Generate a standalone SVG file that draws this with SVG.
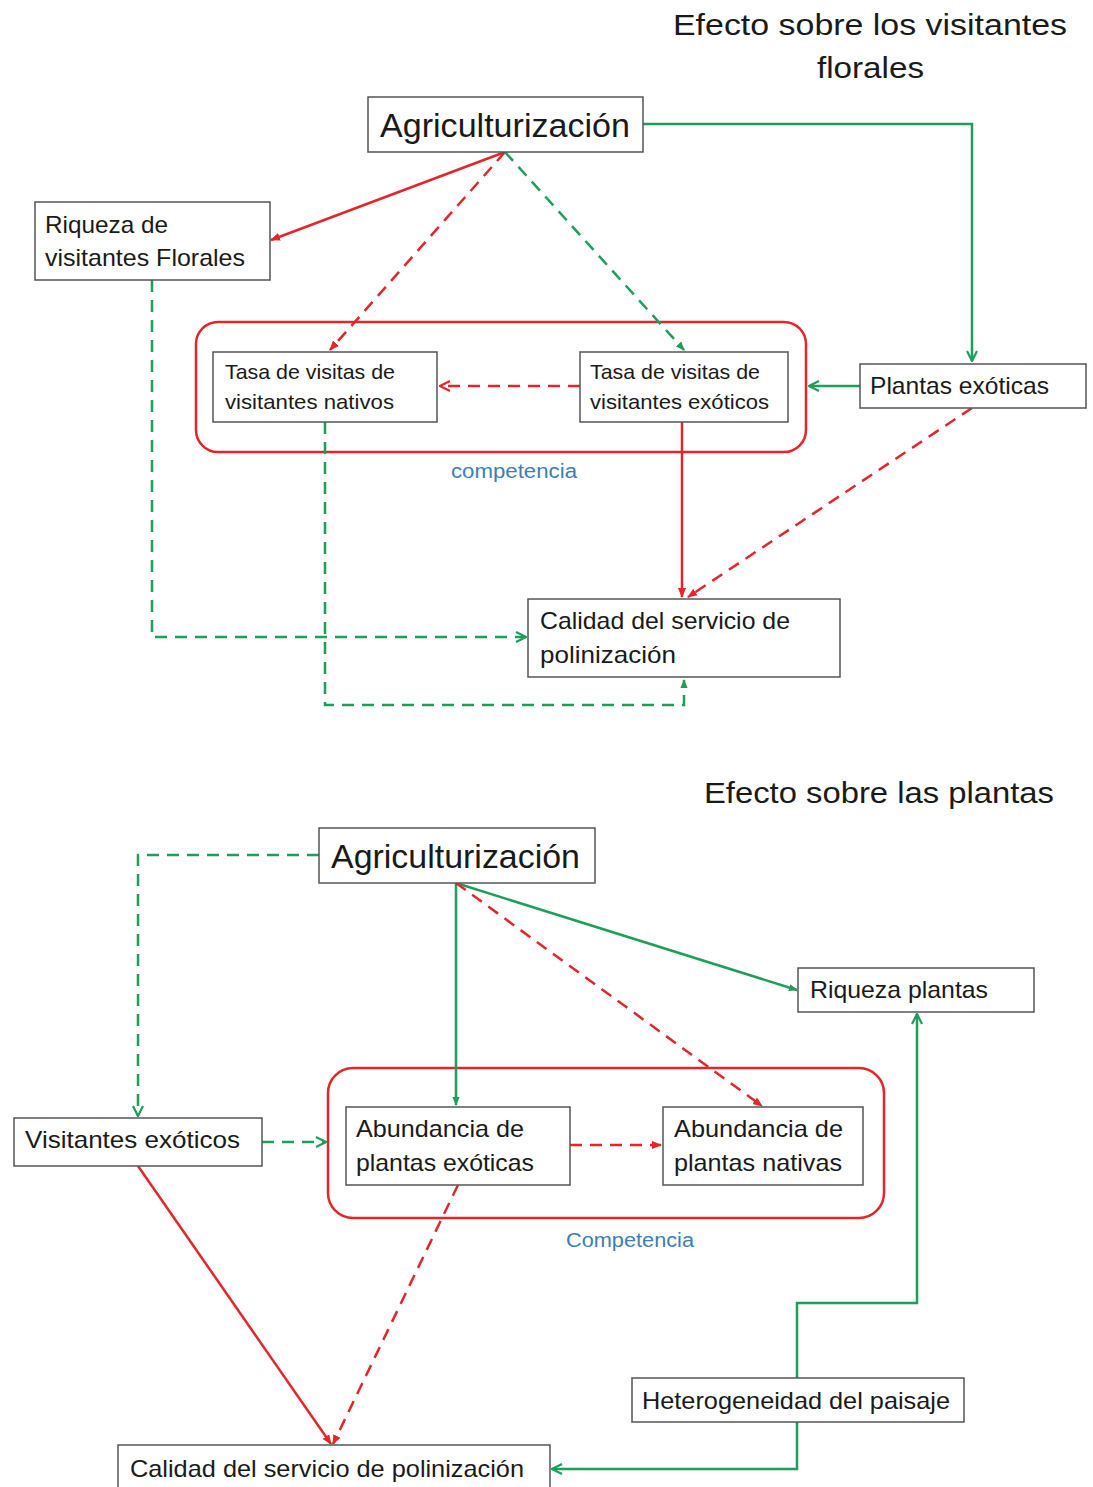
<svg xmlns="http://www.w3.org/2000/svg" width="1093" height="1487" viewBox="0 0 1093 1487">
<style>
text{font-family:"Liberation Sans","Open Sans",sans-serif;fill:#1a1a1a}
.box{fill:#fff;stroke:#555;stroke-width:1.5}
.grp{fill:none;stroke:#e3262b;stroke-width:2.5}
.g{fill:none;stroke:#1f9e5a;stroke-width:2.5}
.r{fill:none;stroke:#e3262b;stroke-width:2.5}
.gd{fill:none;stroke:#1f9e5a;stroke-width:2.5;stroke-dasharray:12 8}
.rd{fill:none;stroke:#e3262b;stroke-width:2.5;stroke-dasharray:12 8}
.lbl{fill:#3b7fb5}
</style>
<defs>
<marker id="ag" viewBox="0 0 12 12" refX="11" refY="6" markerWidth="12" markerHeight="12" markerUnits="userSpaceOnUse" orient="auto"><path d="M1,1 L11,6 L1,11" fill="none" stroke="#1f9e5a" stroke-width="2.2"/></marker>
<marker id="ar" viewBox="0 0 12 12" refX="11" refY="6" markerWidth="12" markerHeight="12" markerUnits="userSpaceOnUse" orient="auto"><path d="M1,1 L11,6 L1,11" fill="none" stroke="#e3262b" stroke-width="2.2"/></marker>
<marker id="agf" viewBox="0 0 10 10" refX="9" refY="5" markerWidth="9" markerHeight="9" markerUnits="userSpaceOnUse" orient="auto"><path d="M0,1 L10,5 L0,9 Z" fill="#1f9e5a"/></marker>
<marker id="arf" viewBox="0 0 10 10" refX="9" refY="5" markerWidth="10" markerHeight="10" markerUnits="userSpaceOnUse" orient="auto"><path d="M0,1 L10,5 L0,9 Z" fill="#e3262b"/></marker>
</defs>

<!-- titles -->
<text x="673" y="35" font-size="30" textLength="394" lengthAdjust="spacingAndGlyphs">Efecto sobre  los visitantes</text>
<text x="817" y="78" font-size="30" textLength="107" lengthAdjust="spacingAndGlyphs">florales</text>
<text x="704" y="803" font-size="30" textLength="350" lengthAdjust="spacingAndGlyphs">Efecto sobre las plantas</text>

<!-- group frames -->
<g id="competencia-top">
<rect class="grp" x="196" y="322" width="610" height="130" rx="22"/>
<text class="lbl" x="451" y="478" font-size="20" textLength="126" lengthAdjust="spacingAndGlyphs">competencia</text>
</g>
<g id="competencia-bottom">
<rect class="grp" x="328" y="1068" width="556" height="150" rx="25"/>
<text class="lbl" x="566" y="1247" font-size="20" textLength="128" lengthAdjust="spacingAndGlyphs">Competencia</text>
</g>

<!-- connectors -->
<g id="connectors">
<path class="g" d="M643,124 H972 V361" marker-end="url(#ag)"/>
<path class="r" d="M505,152 L271,240" marker-end="url(#arf)"/>
<path class="rd" d="M505,152 L330,350" marker-end="url(#arf)"/>
<path class="gd" d="M505,152 L684,350" marker-end="url(#agf)"/>
<path class="rd" d="M580,386 H440" marker-end="url(#ar)"/>
<path class="g" d="M860,386 H809" marker-end="url(#ag)"/>
<path class="r" d="M682,422 V597" marker-end="url(#arf)"/>
<path class="rd" d="M972,408 L688,597" marker-end="url(#arf)"/>
<path class="gd" d="M152,280 V637 H526" marker-end="url(#ag)"/>
<path class="gd" d="M325,422 V705 H684 V680" marker-end="url(#agf)"/>

<path class="gd" d="M319,855 H138 V1116" marker-end="url(#ag)"/>
<path class="gd" d="M262,1142 H326" marker-end="url(#ag)"/>
<path class="g" d="M456,883 V1105" marker-end="url(#agf)"/>
<path class="g" d="M456,883 L797,990" marker-end="url(#agf)"/>
<path class="rd" d="M456,883 L762,1106" marker-end="url(#arf)"/>
<path class="rd" d="M570,1145 H661" marker-end="url(#arf)"/>
<path class="g" d="M797,1378 V1303 H917 V1014" marker-end="url(#ag)"/>
<path class="g" d="M797,1422 V1469 H552" marker-end="url(#ag)"/>
<path class="r" d="M138,1166 L331,1444" marker-end="url(#arf)"/>
<path class="rd" d="M458,1185 L333,1444" marker-end="url(#arf)"/>
</g>

<!-- top nodes -->
<g id="agric-top">
<rect class="box" x="368" y="97" width="275" height="55"/>
<text x="380" y="137" font-size="33" textLength="250" lengthAdjust="spacingAndGlyphs">Agriculturización</text>
</g>
<g id="riqueza-visitantes">
<rect class="box" x="35" y="202" width="235" height="78"/>
<text x="45" y="233" font-size="24" textLength="123" lengthAdjust="spacingAndGlyphs">Riqueza de</text>
<text x="45" y="266" font-size="24" textLength="200" lengthAdjust="spacingAndGlyphs">visitantes Florales</text>
</g>
<g id="tasa-nativos">
<rect class="box" x="213" y="352" width="224" height="70"/>
<text x="225" y="379" font-size="21" textLength="170" lengthAdjust="spacingAndGlyphs">Tasa de visitas de</text>
<text x="225" y="409" font-size="21" textLength="169" lengthAdjust="spacingAndGlyphs">visitantes nativos</text>
</g>
<g id="tasa-exoticos">
<rect class="box" x="580" y="352" width="208" height="70"/>
<text x="590" y="379" font-size="21" textLength="170" lengthAdjust="spacingAndGlyphs">Tasa de visitas de</text>
<text x="590" y="409" font-size="21" textLength="179" lengthAdjust="spacingAndGlyphs">visitantes exóticos</text>
</g>
<g id="plantas-exoticas">
<rect class="box" x="860" y="364" width="226" height="44"/>
<text x="870" y="394" font-size="24" textLength="179" lengthAdjust="spacingAndGlyphs">Plantas exóticas</text>
</g>
<g id="calidad-top">
<rect class="box" x="528" y="599" width="312" height="78"/>
<text x="540" y="629" font-size="24" textLength="250" lengthAdjust="spacingAndGlyphs">Calidad del servicio de</text>
<text x="540" y="663" font-size="24" textLength="136" lengthAdjust="spacingAndGlyphs">polinización</text>
</g>

<!-- bottom nodes -->
<g id="agric-bottom">
<rect class="box" x="319" y="828" width="276" height="55"/>
<text x="331" y="868" font-size="33" textLength="249" lengthAdjust="spacingAndGlyphs">Agriculturización</text>
</g>
<g id="riqueza-plantas">
<rect class="box" x="798" y="968" width="236" height="44"/>
<text x="810" y="998" font-size="24" textLength="178" lengthAdjust="spacingAndGlyphs">Riqueza plantas</text>
</g>
<g id="visitantes-exoticos">
<rect class="box" x="14" y="1118" width="248" height="48"/>
<text x="25" y="1148" font-size="24" textLength="215" lengthAdjust="spacingAndGlyphs">Visitantes  exóticos</text>
</g>
<g id="abundancia-exoticas">
<rect class="box" x="346" y="1107" width="224" height="78"/>
<text x="356" y="1137" font-size="24" textLength="168" lengthAdjust="spacingAndGlyphs">Abundancia de</text>
<text x="356" y="1171" font-size="24" textLength="178" lengthAdjust="spacingAndGlyphs">plantas exóticas</text>
</g>
<g id="abundancia-nativas">
<rect class="box" x="663" y="1107" width="200" height="78"/>
<text x="674" y="1137" font-size="24" textLength="169" lengthAdjust="spacingAndGlyphs">Abundancia de</text>
<text x="674" y="1171" font-size="24" textLength="168" lengthAdjust="spacingAndGlyphs">plantas nativas</text>
</g>
<g id="heterogeneidad">
<rect class="box" x="632" y="1378" width="332" height="44"/>
<text x="642" y="1409" font-size="24" textLength="308" lengthAdjust="spacingAndGlyphs">Heterogeneidad del paisaje</text>
</g>
<g id="calidad-bottom">
<rect class="box" x="118" y="1445" width="432" height="50"/>
<text x="130" y="1477" font-size="24" textLength="394" lengthAdjust="spacingAndGlyphs">Calidad del servicio de polinización</text>
</g>
</svg>
